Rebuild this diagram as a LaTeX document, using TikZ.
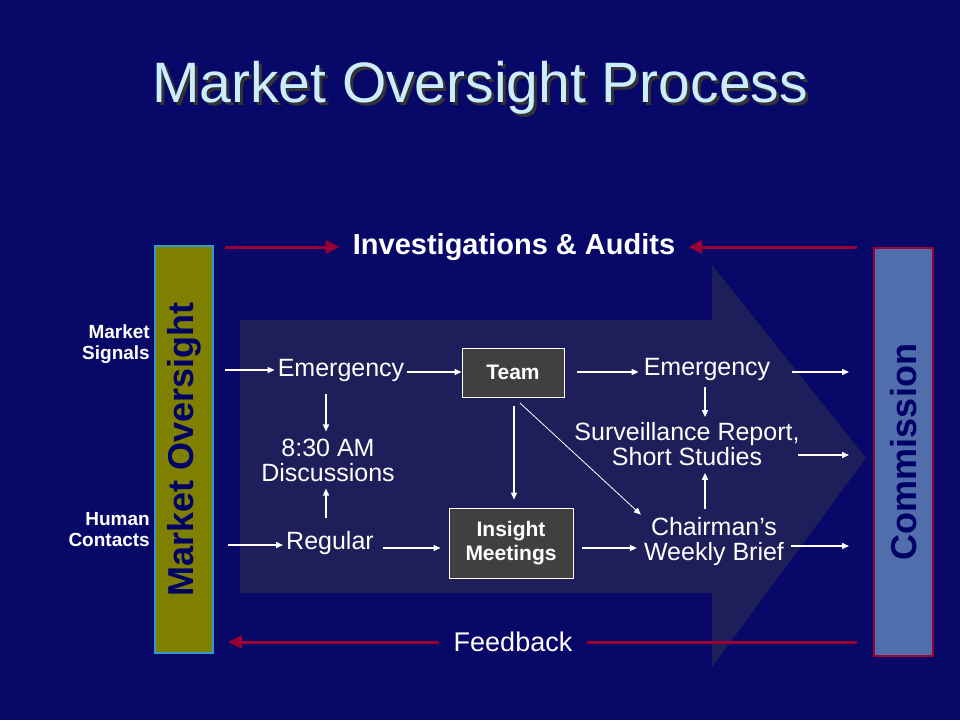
\documentclass[tikz,border=0pt]{standalone}
\usepackage{fontspec}
\setmainfont{Liberation Sans}
\usetikzlibrary{arrows.meta,calc}
\definecolor{bgnavy}{RGB}{8,8,104}
\definecolor{arrowbody}{RGB}{30,30,90}
\definecolor{boxgray}{RGB}{64,64,64}
\definecolor{crim}{RGB}{153,0,51}
\definecolor{olivebar}{RGB}{128,128,0}
\definecolor{cyanedge}{RGB}{51,153,204}
\definecolor{commfill}{RGB}{80,110,172}
\definecolor{titleblue}{RGB}{204,236,255}
\definecolor{darknavy}{RGB}{0,0,102}
\begin{document}
\begin{tikzpicture}[x=1pt,y=-1pt,
  lbl/.style={text=white, font=\fontsize{25}{25}\selectfont, align=center, inner sep=3pt},
  side/.style={text=white, font=\bfseries\fontsize{19}{21}\selectfont, align=right, inner sep=0pt},
  boxnode/.style={draw=white, line width=1pt, fill=boxgray, text=white, font=\bfseries\fontsize{21}{24}\selectfont, align=center},
  warr/.style={draw=white, line width=1.5pt, -{Triangle[length=7pt,width=6pt]}},
  rarr/.style={draw=crim, line width=3pt, -{Triangle[length=14pt,width=13pt]}},
  rline/.style={draw=crim, line width=3pt},
  barnode/.style={line width=2pt, font=\bfseries\fontsize{36}{40}\selectfont, text=darknavy, inner sep=0pt}
]
\useasboundingbox (0,0) rectangle (960,720);
\fill[bgnavy] (0,0) rectangle (960,720);
% big arrow
\fill[arrowbody] (240,320) -- (712,320) -- (712,265) -- (866,458) -- (712,667) -- (712,593) -- (240,593) -- cycle;
% title with shadow
\node[text=titleblue, font=\fontsize{57}{60}\selectfont] (title) at (480,88) {\makebox[0pt][l]{\raisebox{-3pt}[0pt][0pt]{\hspace*{3pt}\textcolor{black!80}{Market Oversight Process}}}Market Oversight Process};
% bars
\node[barnode, draw=cyanedge, fill=olivebar, minimum width=58pt, minimum height=407pt] (mo) at (184,449.5) {\rotatebox{90}{Market Oversight}};
\node[barnode, draw=crim, fill=commfill, minimum width=59pt, minimum height=408pt] (comm) at (903.5,452) {\rotatebox{90}{Commission}};
% side labels
\node[side, anchor=east] (signals) at (150,344) {Market\\Signals};
\node[side, anchor=east] (contacts) at (150,530) {Human\\Contacts};
% top and bottom
\node[text=white, font=\bfseries\fontsize{29}{31}\selectfont, inner sep=13pt] (inv) at (514,247) {Investigations \& Audits};
\node[text=white, font=\fontsize{27}{29}\selectfont, inner sep=15pt] (fb) at (513,642) {Feedback};
\draw[rarr] (inv.west -| mo.east) ++(11,0) coordinate (invL) -- (inv.west);
\draw[rarr] (inv.east -| comm.west) ++(-16,0) coordinate (invR) -- (inv.east);
\draw[rline] (fb.east -| comm.west) ++(-16,0) coordinate (fbR) -- (fb.east);
\draw[rarr] (fb.west) -- ($(fb.west -| mo.east)+(14,0)$) coordinate (fbL);
% flow nodes
\node[lbl] (em1) at (341,370) {Emergency};
\node[lbl] (d830) at (328,460) {8:30 AM\\Discussions};
\node[lbl] (reg) at (330,543) {Regular};
\node[boxnode, minimum width=102pt, minimum height=49pt] (team) at (513,372.5) {Team};
\node[boxnode, minimum width=124pt, minimum height=70pt] (ins) at (511,543) {Insight\\Meetings};
\node[lbl] (em2) at (707,369) {Emergency};
\node[lbl] (surv) at (687,444) {Surveillance Report,\\Short Studies};
\node[lbl] (chair) at (714,542) {Chairman’s\\Weekly Brief};
% arrows
\draw[warr, shorten <=11pt] (mo.east |- 0,370) -- (em1.west);
\draw[warr, shorten <=14pt] (mo.east |- 0,545) -- (reg.west |- 0,545);
\draw[warr] (em1.east |- 0,372) -- (team.west |- 0,372);
\draw[warr, shorten <=12pt, shorten >=2pt] (team.east |- 0,372) -- (em2.west |- 0,372);
\draw[warr, shorten <=19pt, shorten >=24pt] (em2.east |- 0,372) -- (comm.west |- 0,372);
\draw[warr, shorten <=-5pt, shorten >=24pt] (surv.east |- 0,455) -- (comm.west |- 0,455);
\draw[warr, shorten <=4pt, shorten >=24pt] (chair.east |- 0,546) -- (comm.west |- 0,546);
\draw[warr, shorten <=6pt, shorten >=8pt] (reg.east |- 0,548) -- (ins.west |- 0,548);
\draw[warr, shorten <=8pt, shorten >=4pt] (ins.east |- 0,548) -- (chair.west |- 0,548);
\draw[warr, shorten <=10pt, shorten >=4pt] (em1.south -| 326,0) -- (d830.north -| 326,0);
\draw[warr, shorten <=10pt, shorten >=4pt] (reg.north -| 326,0) -- (d830.south -| 326,0);
\draw[warr, shorten <=4pt, shorten >=2pt] (em2.south -| 705,0) -- (surv.north -| 705,0);
\draw[warr, shorten <=6pt, shorten >=4pt] (chair.north -| 705,0) -- (surv.south -| 705,0);
\draw[warr, shorten <=8pt, shorten >=8pt] (team.south -| 514,0) -- (ins.north -| 514,0);
\draw[draw=white, line width=0.8pt, -{Triangle[length=7pt,width=6pt]}, shorten <=8pt] (team.south -| 514,0) -- (chair.north west);
\end{tikzpicture}
\end{document}
